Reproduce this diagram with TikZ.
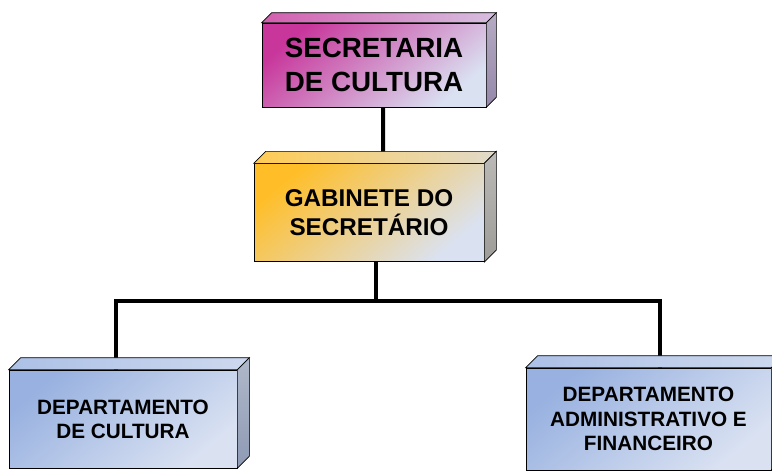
\documentclass[tikz,border=0pt]{standalone}
\usepackage{fontspec}
\setmainfont{Liberation Sans}
\usetikzlibrary{
    backgrounds,
    calc,
    positioning
}
\definecolor{secmagenta}{RGB}{200,54,155}
\definecolor{gabgold}{RGB}{255,190,40}
\definecolor{depblue}{RGB}{152,177,224}
\definecolor{paleblue}{RGB}{218,226,242}
\definecolor{sidegray}{RGB}{140,150,172}
\tikzset{
    % Box styles
    org box/.style={
        draw=black,
        thin,
        rectangle,
        inner sep=0pt,
        align=center,
        font=\bfseries
    },
    sec box/.style={
        org box,
        top color=secmagenta,
        bottom color=paleblue,
        shading angle=40,
        minimum width=4.48cm,
        minimum height=1.68cm,
        font=\bfseries\fontsize{15.8}{19}\selectfont
    },
    gab box/.style={
        org box,
        top color=gabgold,
        bottom color=paleblue,
        shading angle=40,
        minimum width=4.6cm,
        minimum height=1.96cm,
        font=\bfseries\fontsize{13.8}{16.2}\selectfont
    },
    dep box/.style={
        org box,
        top color=depblue,
        bottom color=paleblue,
        shading angle=40,
        minimum height=1.96cm,
        font=\bfseries\fontsize{11.8}{13.8}\selectfont
    },
    % Line style
    org line/.style={
        line width=0.08cm,
        black
    }
}
\begin{document}
\begin{tikzpicture}
    \useasboundingbox (0,0) rectangle (15.44,9.4);

    % Nodes
    \node[sec box] (sec) at (7.48,8.10) {SECRETARIA\\DE CULTURA};
    \node[gab box, below=1.12cm of sec, xshift=-0.1cm] (gab) {GABINETE DO\\SECRETÁRIO};
    \node[dep box, minimum width=4.56cm] (dcult) at (2.46,1.02) {DEPARTAMENTO\\DE CULTURA};
    \node[dep box, minimum width=4.9cm, minimum height=2.04cm] (dadm) at (12.97,1.02)
        {DEPARTAMENTO\\ADMINISTRATIVO E\\FINANCEIRO};

    % Depth faces
    \foreach \n/\d/\c in {sec/0.2/secmagenta, gab/0.24/gabgold, dcult/0.24/depblue, dadm/0.24/depblue} {
        \shade[draw=black, thin, left color=\c!80!white, right color=\c!20!paleblue]
            (\n.north west) -- ++(\d,\d) -- ($(\n.north east)+(\d,\d)$) -- (\n.north east) -- cycle;
        \shade[draw=black, thin, top color=\c!15!sidegray!70!white, bottom color=\c!15!sidegray]
            (\n.north east) -- ++(\d,\d) -- ($(\n.south east)+(\d,\d)$) -- (\n.south east) -- cycle;
    }

    % Edges
    \begin{scope}[on background layer]
        \coordinate (bus) at ([xshift=0.14cm, yshift=-0.78cm]gab.south);
        \draw[org line] ([xshift=0.18cm]sec.south) -- ([xshift=0.28cm]gab.north);
        \draw[org line] ([xshift=0.14cm]gab.south) -- (bus);
        \draw[org line] ([xshift=-0.14cm]dcult.north) |- (bus);
        \draw[org line] (bus) -| ([xshift=0.23cm]dadm.north);
    \end{scope}
\end{tikzpicture}
\end{document}
